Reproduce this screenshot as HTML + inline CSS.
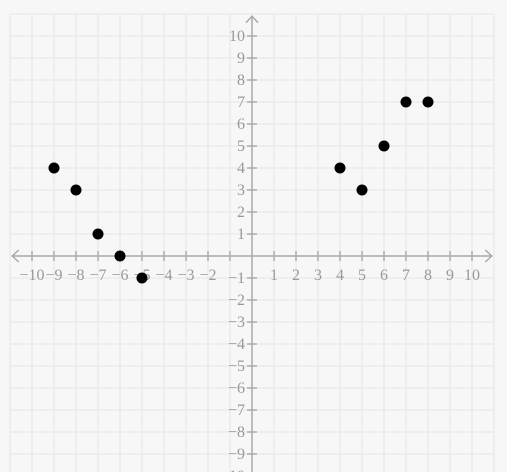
<!DOCTYPE html>
<html><head><meta charset="utf-8"><style>
html,body{margin:0;padding:0;background:#f7f7f7;width:507px;height:472px;overflow:hidden;}
svg{display:block;overflow:hidden;}
text{font-family:"Liberation Serif",serif;font-size:16px;fill:#999;}
</style></head><body>
<svg id="chart" width="507" height="472" viewBox="0 0 507 472"></svg>
<script>
const xValues=[-9,-8,-7,-6,-5,4,5,6,7,8];
const yValues=[4,3,1,0,-1,4,3,5,7,7];
const xTicks=[-10,-9,-8,-7,-6,-5,-4,-3,-2,1,2,3,4,5,6,7,8,9,10];
const yTicks=[10,9,8,7,6,5,4,3,2,1,-1,-2,-3,-4,-5,-6,-7,-8,-9,-10];
const ox=252,oy=256,u=22;
const sx=v=>ox+v*u, sy=v=>oy-v*u;
const svg=document.getElementById('chart');
const NS='http://www.w3.org/2000/svg';
function mk(t,a,p){const e=document.createElementNS(NS,t);for(const k in a)e.setAttribute(k,a[k]);(p||svg).appendChild(e);return e;}
const grid=mk('g',{});


for(let i=-11;i<=11;i++){
  mk('line',{x1:sx(i),x2:sx(i),y1:sy(11),y2:472,stroke:'#e6e6e6','stroke-width':1},grid);
  mk('line',{x1:sx(-11),x2:sx(11),y1:sy(i),y2:sy(i),stroke:'#e6e6e6','stroke-width':1},grid);
}
const ax=mk('g',{stroke:'#aaa','stroke-width':1.5,fill:'none'});


mk('line',{x1:sx(-10.9),x2:sx(10.9),y1:oy,y2:oy},ax);
mk('line',{x1:ox,x2:ox,y1:sy(10.9),y2:472},ax);
mk('path',{d:`M${sx(-10.6)} ${oy-6}L${sx(-10.9)} ${oy}L${sx(-10.6)} ${oy+6}`},ax);
mk('path',{d:`M${sx(10.6)} ${oy-6}L${sx(10.9)} ${oy}L${sx(10.6)} ${oy+6}`},ax);
mk('path',{d:`M${ox-6} ${sy(10.6)}L${ox} ${sy(10.9)}L${ox+6} ${sy(10.6)}`},ax);
for(let i=-10;i<=10;i++){ if(!i)continue;
  mk('line',{x1:sx(i),x2:sx(i),y1:oy-5,y2:oy+5},ax);
  mk('line',{x1:ox-5,x2:ox+5,y1:sy(i),y2:sy(i)},ax);
}
xTicks.forEach(v=>{const t=mk('text',{x:sx(v),y:oy+24,'text-anchor':'middle'});t.textContent=(v<0?'\u2212':'')+Math.abs(v);

});
yTicks.forEach(v=>{const t=mk('text',{x:ox-7,y:sy(v)+5,'text-anchor':'end'});t.textContent=(v<0?'\u2212':'')+Math.abs(v);

});
xValues.forEach((x,i)=>{const c=mk('circle',{cx:sx(x),cy:sy(yValues[i]),r:5.5,fill:'#000'});

});
</script>
</body></html>
